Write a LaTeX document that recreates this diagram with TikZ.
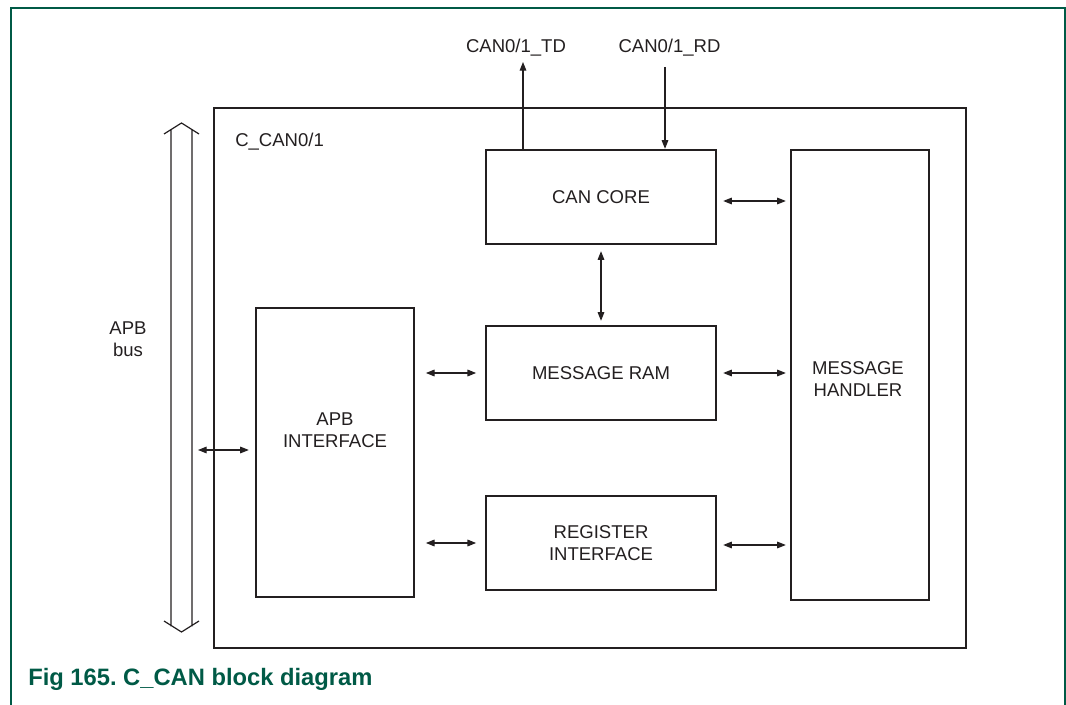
\documentclass[tikz,border=0pt]{standalone}
\usepackage{fontspec}
\setmainfont{Liberation Sans}
\usepackage{xcolor}
\definecolor{framegreen}{HTML}{005A46}
\definecolor{inkgray}{HTML}{231F20}
\usetikzlibrary{arrows.meta, positioning, calc}

\begin{document}
\begin{tikzpicture}[x=0.75pt, y=-0.75pt,
  every node/.style={text=inkgray, font=\fontsize{13.9}{16.5}\selectfont},
  block/.style={draw=inkgray, line width=1.8pt, align=center, inner sep=0pt},
  link/.style={draw=inkgray, line width=0.8pt, -{Triangle[length=6.5pt,width=5pt]}},
  duplex/.style={link, {Triangle[length=6.5pt,width=5pt]}-{Triangle[length=6.5pt,width=5pt]}, shorten <=4.5pt, shorten >=3pt}]
  \useasboundingbox (0,0) rectangle (1066,705);
  \draw[framegreen, line width=1.2pt] (11,705) -- (11,8) -- (1065,8) -- (1065,705);

  \node[block, line width=2pt, minimum width=564pt, minimum height=405pt] (ccan) at (590,378) {};
  \node[anchor=base west, inner sep=0pt] (ccanlabel) at (235,147) {C\_CAN0/1};

  \node[block, minimum width=172.5pt, minimum height=70.5pt] (cancore) at (601,197) {CAN CORE};
  \node[block, minimum width=172.5pt, minimum height=70.5pt] (msgram) at (601,373) {MESSAGE RAM};
  \node[block, minimum width=172.5pt, minimum height=70.5pt] (regif) at (601,543) {REGISTER\\INTERFACE};
  \node[block, minimum width=103.5pt, minimum height=337.5pt] (handler) at (860,375) {};
  \node[align=center] (handlerlabel) at (858,379) {MESSAGE\\HANDLER};
  \node[block, minimum width=118.5pt, minimum height=216.75pt] (apb) at (335,452.5) {};
  \node[align=center] (apblabel) at (335,430) {APB\\INTERFACE};

  \draw[inkgray, line width=0.9pt] (164,134) -- (181.5,123) -- (199,134)
    (171,129.6) -- (171,626.4) (192,129.6) -- (192,626.4)
    (164,621) -- (181.5,632) -- (199,621);
  \node[align=center] (buslabel) at (128,339) {APB\\bus};
  \coordinate (busport) at (192,450);

  \node[anchor=base] (tdlabel) at (516,53) {CAN0/1\_TD};
  \node[anchor=base] (rdlabel) at (669.5,53) {CAN0/1\_RD};
  \coordinate (tdend) at (523,62);
  \coordinate (rdstart) at (665,67);

  \draw[link] (tdend |- cancore.north) -- (tdend);
  \draw[link] (rdstart) -- (rdstart |- cancore.north);
  \draw[duplex] ([yshift=-3pt]cancore.east) -- ([yshift=-3pt]cancore.east -| handler.west);
  \draw[duplex] (cancore) -- (msgram);
  \draw[duplex] (msgram) -- (msgram -| handler.west);
  \draw[duplex] ([yshift=-1.5pt]regif.east) -- ([yshift=-1.5pt]regif.east -| handler.west);
  \draw[duplex, shorten <=8pt, shorten >=6.5pt] (apb.east |- msgram) -- (msgram);
  \draw[duplex, shorten <=8pt, shorten >=6.5pt] (apb.east |- regif) -- (regif);
  \draw[duplex, shorten >=4.5pt] (busport) -- (busport -| apb.west);

  \node[anchor=base west, inner sep=0pt, text=framegreen, font=\bfseries\fontsize{17.8}{20}\selectfont] (caption) at (28,685) {Fig 165.\ C\_CAN block diagram};
\end{tikzpicture}
\end{document}
